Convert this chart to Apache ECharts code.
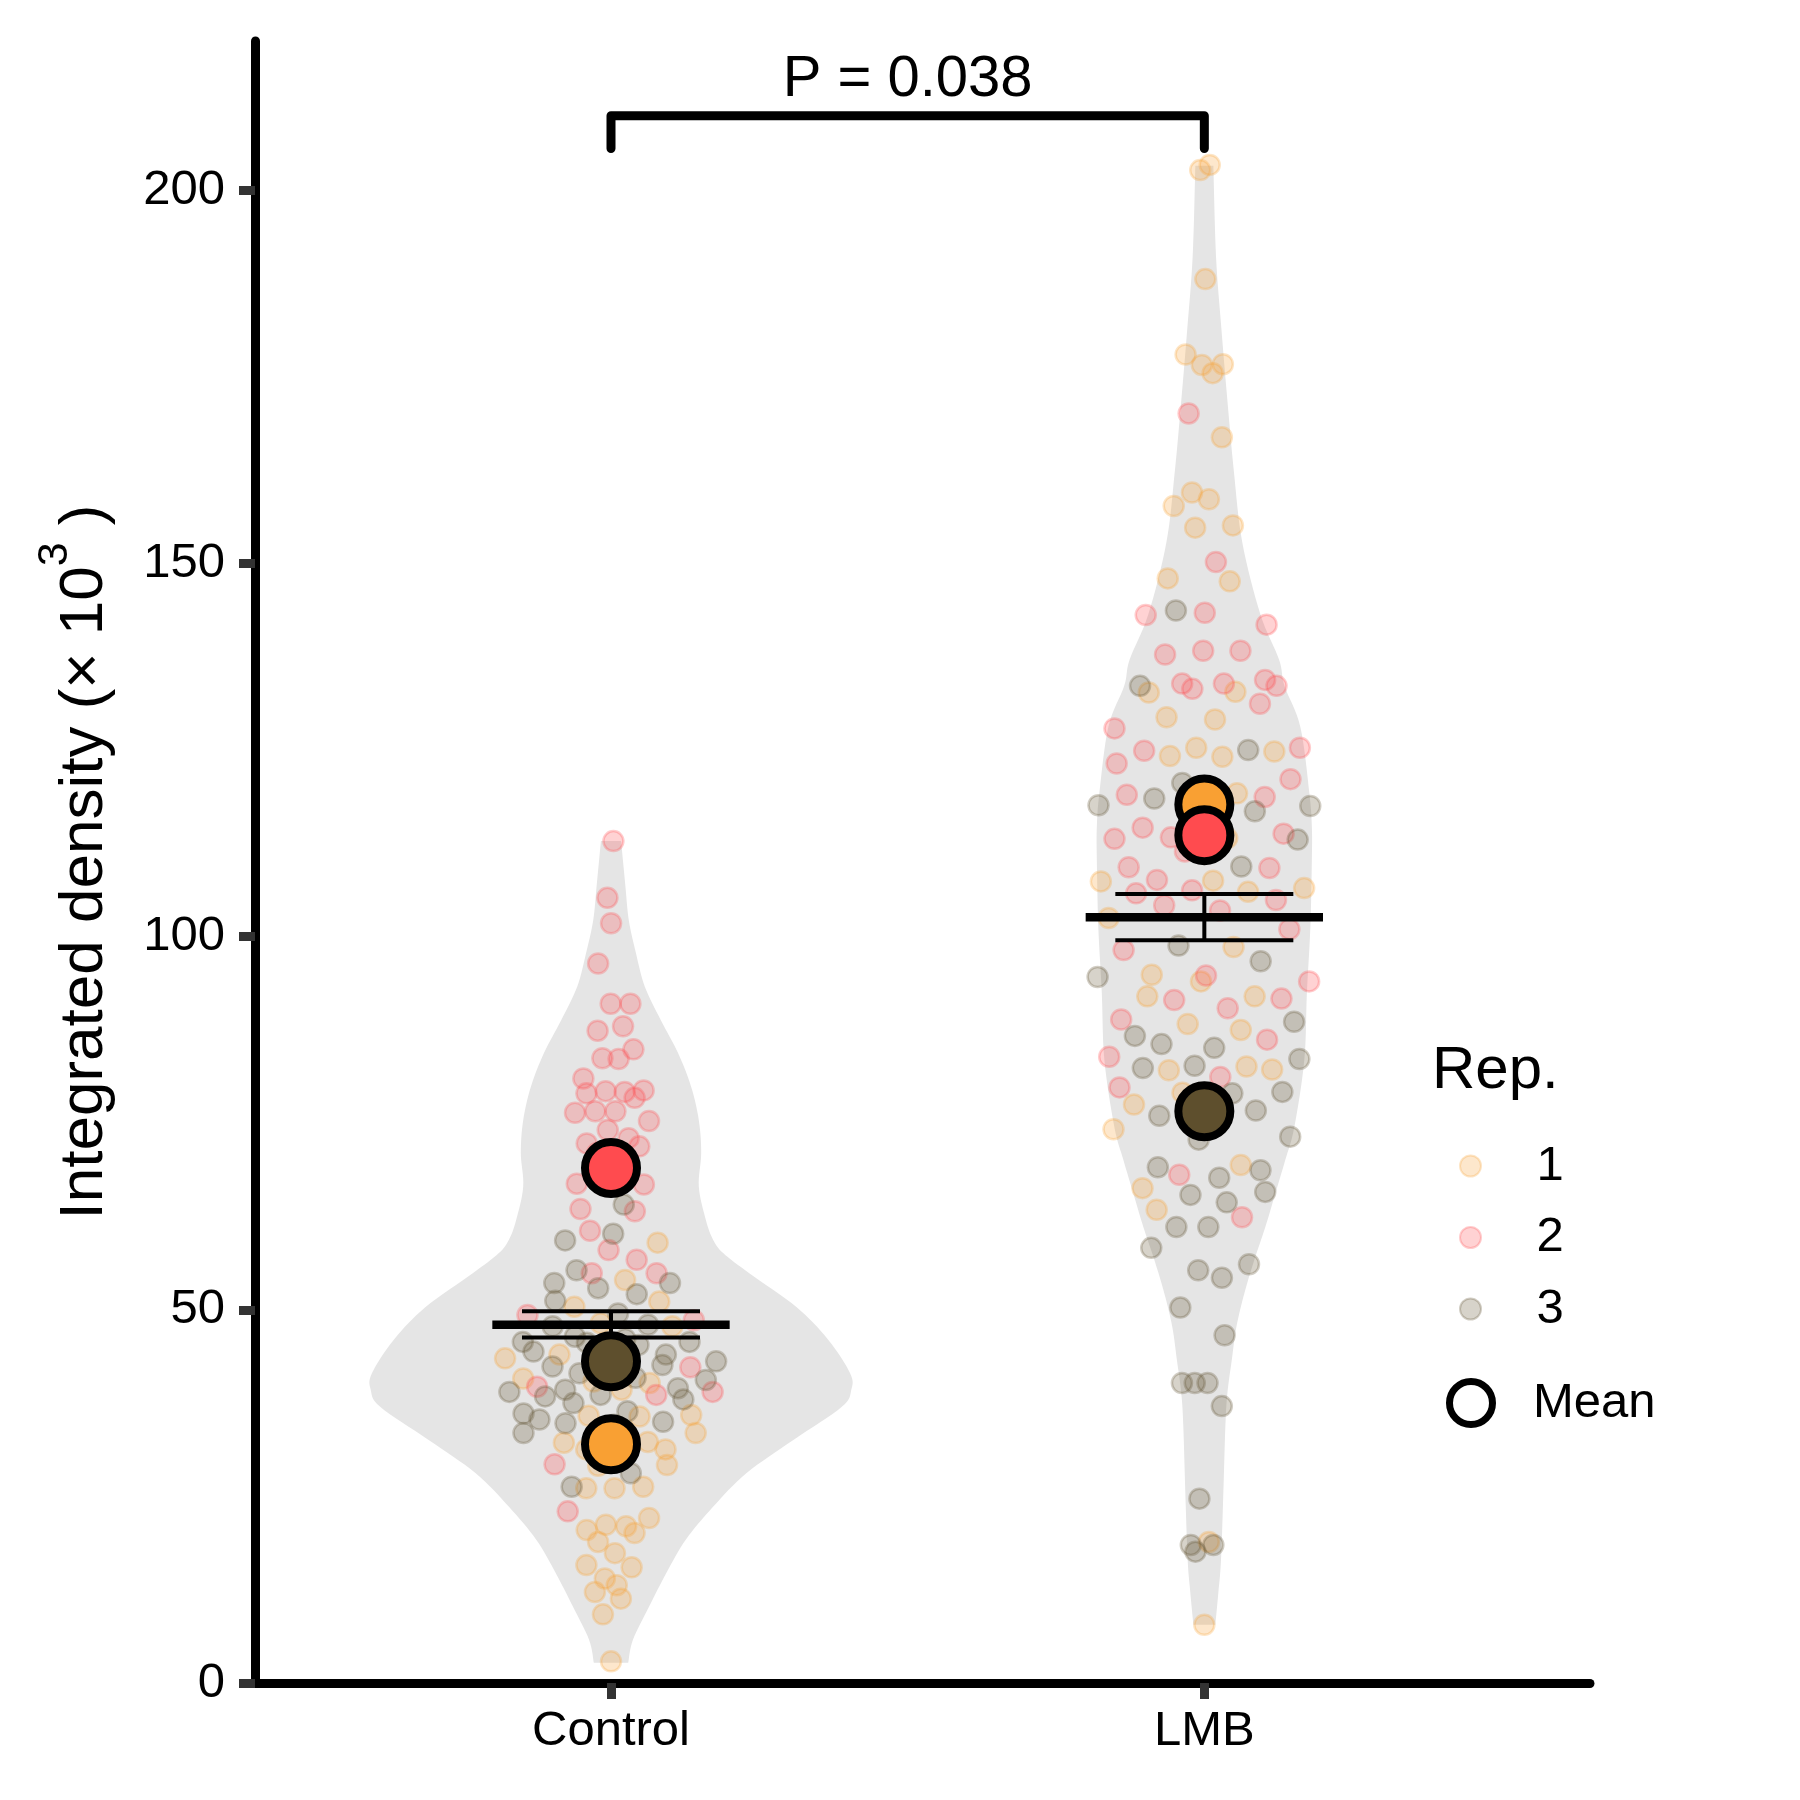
<!DOCTYPE html>
<html><head><meta charset="utf-8">
<script src="https://cdn.jsdelivr.net/npm/echarts@6/dist/echarts.min.js"></script>
<style>html,body{margin:0;padding:0;background:#fff}#c{width:1800px;height:1800px}</style>
</head><body><div id="c"></div>
<script>
const categories = ['Control', 'LMB'];
const reps = ['1', '2', '3'];
const yTicks = [0, 50, 100, 150, 200];

const control1 = [66.8, 59.0, 54.0, 51.1, 50.4, 48.2, 47.8, 44.0, 43.5, 44.0, 40.4, 40.2, 40.8, 39.3, 35.8, 35.9, 35.7, 33.5, 33.0, 32.3, 31.3, 31.3, 30.7, 32.2, 29.2, 29.1, 26.3, 26.1, 26.1, 22.1, 20.5, 21.2, 21.0, 20.1, 18.9, 17.4, 15.8, 15.5, 14.0, 13.1, 12.2, 11.3, 9.2, 2.9];
const control2 = [112.8, 105.2, 101.8, 96.4, 91.0, 91.0, 88.0, 87.4, 84.9, 83.6, 83.7, 81.0, 79.2, 79.4, 79.3, 79.0, 78.4, 76.6, 76.6, 76.4, 75.3, 74.1, 73.0, 72.3, 71.9, 71.0, 70.5, 66.9, 66.8, 63.2, 63.5, 60.6, 58.0, 56.7, 54.9, 54.9, 49.3, 48.6, 43.1, 42.3, 39.7, 38.6, 39.0, 29.3, 23.0];
const control3 = [64.1, 60.2, 59.3, 55.3, 53.6, 52.9, 53.6, 52.1, 51.2, 49.5, 48.0, 47.8, 45.3, 45.7, 45.6, 46.4, 45.7, 46.1, 44.0, 44.4, 43.1, 42.6, 40.9, 41.5, 42.4, 40.6, 39.3, 38.4, 39.0, 38.0, 39.5, 38.6, 37.5, 36.4, 35.0, 36.1, 35.3, 34.8, 34.6, 33.5, 28.1, 26.3];
const lmb1 = [203.4, 202.7, 188.1, 178.0, 176.7, 176.6, 175.5, 166.9, 159.5, 158.6, 157.7, 155.1, 154.8, 147.6, 148.0, 132.8, 132.7, 129.1, 129.4, 124.1, 125.3, 124.8, 124.2, 119.2, 117.8, 113.2, 107.5, 106.5, 107.4, 106.0, 102.5, 98.6, 94.9, 94.0, 92.0, 92.0, 87.5, 88.3, 82.2, 82.6, 82.1, 79.1, 77.5, 75.2, 74.2, 69.4, 66.3, 63.4, 18.9, 7.8];
const lmb2 = [170.1, 150.2, 143.4, 143.1, 141.8, 138.3, 138.3, 137.8, 133.9, 133.6, 134.4, 133.2, 133.9, 131.2, 127.9, 125.3, 124.9, 123.2, 121.1, 118.7, 117.1, 119.0, 113.8, 113.1, 114.6, 113.3, 111.4, 109.2, 109.3, 107.6, 105.8, 106.2, 104.9, 103.5, 104.2, 101.0, 98.2, 94.0, 94.8, 91.7, 90.4, 91.5, 88.9, 86.2, 83.9, 81.2, 79.8, 68.1, 62.4];
const lmb3 = [143.7, 133.6, 125.0, 120.6, 117.5, 118.5, 117.6, 116.8, 113.0, 109.4, 98.8, 96.7, 94.6, 88.6, 86.7, 85.6, 85.1, 83.6, 82.4, 82.7, 79.0, 79.2, 76.7, 76.0, 72.8, 73.2, 69.1, 68.7, 67.7, 65.4, 65.8, 64.4, 61.1, 61.1, 58.3, 56.1, 55.3, 54.3, 50.3, 46.6, 40.2, 40.2, 40.2, 37.1, 24.7, 18.5, 17.6, 18.5];

// violin density profiles (value, half-width in category units)
const violinControlY = [2.7, 5.8, 10.2, 14.7, 19.2, 23.6, 28.1, 32.6, 37.0, 39.3, 41.5, 46.0, 50.4, 54.9, 57.6, 59.4, 62.0, 66.5, 71.0, 75.4, 79.9, 84.4, 88.8, 93.3, 97.8, 102.2, 107.0, 112.8];
const violinControlHW = [0.029, 0.037, 0.064, 0.093, 0.126, 0.172, 0.228, 0.308, 0.389, 0.405, 0.403, 0.366, 0.312, 0.233, 0.189, 0.172, 0.160, 0.148, 0.152, 0.148, 0.135, 0.113, 0.084, 0.057, 0.042, 0.030, 0.024, 0.017];
const violinLMBY = [7.8, 12.1, 16.5, 25.4, 34.3, 38.8, 43.3, 47.7, 52.2, 56.7, 61.1, 65.6, 70.1, 74.5, 83.5, 92.4, 101.3, 110.3, 114.7, 119.2, 128.1, 133.6, 137.1, 143.2, 152.8, 162.4, 171.9, 181.5, 191.1, 203.3];
const violinLMBHW = [0.0185, 0.0236, 0.0281, 0.032, 0.0354, 0.0388, 0.0463, 0.054, 0.0674, 0.0843, 0.1028, 0.1197, 0.1365, 0.1517, 0.1685, 0.1728, 0.1787, 0.1812, 0.1812, 0.177, 0.1618, 0.135, 0.126, 0.0944, 0.064, 0.0497, 0.0388, 0.0287, 0.0197, 0.0152];

const repMeansControl = [32.0, 69.0, 43.1];
const repMeansLMB = [117.7, 113.6, 76.6];
const grandMean = [48.0, 102.6];
const semLow = [46.3, 99.5];
const semHigh = [49.8, 105.7];
const bracketY = [205.6, 210.0];
const pLabel = 'P = 0.038';

const FONT = '"Liberation Sans", Arial, Helvetica, sans-serif';
const repColors = ['#F9A033', '#FF4B4F', '#5E4F2D'];
const PT_FILL_ALPHA = 0.25;
const PT_EDGE_ALPHA = 0.28;
function rgba(hex, a) {
  const n = parseInt(hex.slice(1), 16);
  return 'rgba(' + (n >> 16 & 255) + ',' + (n >> 8 & 255) + ',' + (n & 255) + ',' + a + ')';
}
function interp(ys, hws, y) {
  if (y <= ys[0]) return hws[0];
  for (let i = 1; i < ys.length; i++) {
    if (y <= ys[i]) { const t = (y - ys[i - 1]) / (ys[i] - ys[i - 1]); return hws[i - 1] + t * (hws[i] - hws[i - 1]); }
  }
  return hws[hws.length - 1];
}
// Catmull-Rom resampling of a profile for a smooth outline
function smoothProfile(ys, hws) {
  const out = [];
  const n = ys.length;
  const P = i => [ys[Math.max(0, Math.min(n - 1, i))], hws[Math.max(0, Math.min(n - 1, i))]];
  for (let i = 0; i < n - 1; i++) {
    const p0 = P(i - 1), p1 = P(i), p2 = P(i + 1), p3 = P(i + 2);
    for (let s = 0; s < 8; s++) {
      const t = s / 8, t2 = t * t, t3 = t2 * t;
      const f = k => 0.5 * ((2 * p1[k]) + (-p0[k] + p2[k]) * t + (2 * p0[k] - 5 * p1[k] + 4 * p2[k] - p3[k]) * t2 + (-p0[k] + 3 * p1[k] - 3 * p2[k] + p3[k]) * t3);
      out.push([f(0), Math.max(0.005, f(1))]);
    }
  }
  out.push([ys[n - 1], hws[n - 1]]);
  return out;
}
function vdc(n) { let v = 0, d = 1; while (n > 0) { d *= 2; v += (n % 2) / d; n = Math.floor(n / 2); } return v; }
// quasirandom (van der Corput) offsets scaled by the group's density profile
const QW = 0.19;
function layoutGroup(gx, arrays, ys, hws) {
  const all = [];
  arrays.forEach((arr, r) => arr.forEach(v => all.push({ r, v })));
  const order = all.map((d, k) => k).sort((a, b) => (all[a].v - all[b].v) || (a - b));
  const maxHW = Math.max.apply(null, hws);
  order.forEach((k, rank) => {
    const d = all[k];
    const q = vdc(rank + 1);
    d.x = gx + (2 * q - 1) * QW * interp(ys, hws, d.v) / maxHW;
  });
  return all;
}
const gC = layoutGroup(1, [control1, control2, control3], violinControlY, violinControlHW);
const gL = layoutGroup(2, [lmb1, lmb2, lmb3], violinLMBY, violinLMBHW);

const pointSeries = reps.map((name, r) => ({
  type: 'scatter', name: name, z: 2, silent: true,
  symbol: 'circle', symbolSize: 20,
  itemStyle: { color: rgba(repColors[r], PT_FILL_ALPHA), borderColor: rgba(repColors[r], PT_EDGE_ALPHA), borderWidth: 2.5, opacity: 1 },
  data: gC.filter(d => d.r === r).map(d => [d.x, d.v]).concat(gL.filter(d => d.r === r).map(d => [d.x, d.v]))
}));

const profiles = [smoothProfile(violinControlY, violinControlHW), smoothProfile(violinLMBY, violinLMBHW)];

const chart = echarts.init(document.getElementById('c'), null, { renderer: 'canvas' });
chart.setOption({
  animation: false,
  backgroundColor: '#fff',
  grid: { left: 255, right: 210, top: 41, bottom: 117, containLabel: false, outerBoundsMode: 'none' },
  title: { text: 'Rep.', left: 1432, top: 1041, padding: 0, textStyle: { fontSize: 60, fontWeight: 'normal', color: '#000', fontFamily: FONT } },
  legend: [
    { data: reps, orient: 'vertical', left: 1459, top: 1141, padding: 0, itemGap: 21.5, itemWidth: 122, itemHeight: 21, icon: 'circle', selectedMode: false,
      textStyle: { fontSize: 49, color: '#000', fontFamily: FONT, lineHeight: 50 } },
    { data: [{ name: 'Mean', itemStyle: { color: 'rgba(0,0,0,0)', borderColor: '#000', borderWidth: 7 } }], orient: 'vertical', left: 1446, top: 1378, padding: 0,
      itemWidth: 114, itemHeight: 43, icon: 'circle', selectedMode: false,
      textStyle: { fontSize: 49, color: '#000', fontFamily: FONT, lineHeight: 50 } }
  ],
  xAxis: {
    type: 'value', min: 0.4, max: 2.65,
    axisLine: { show: true, onZero: false, lineStyle: { color: '#000', width: 9 } },
    axisTick: { show: true, length: 16, customValues: [1, 2], lineStyle: { color: '#333', width: 9 } },
    axisLabel: { show: true, customValues: [1, 2], margin: 24, fontSize: 49, color: '#000', fontFamily: FONT,
      formatter: v => categories[Math.round(v) - 1] || '' },
    splitLine: { show: false }
  },
  yAxis: {
    type: 'value', min: 0, max: 220,
    axisLine: { show: true, onZero: false, lineStyle: { color: '#000', width: 9 } },
    axisTick: { show: true, length: 16, customValues: yTicks, lineStyle: { color: '#333', width: 9 } },
    axisLabel: { show: true, customValues: yTicks, margin: 30, fontSize: 49, color: '#000', fontFamily: FONT },
    splitLine: { show: false },
    name: '{a|Integrated density (× 10}{s|3}{a| )}',
    nameLocation: 'middle', nameRotate: 90, nameGap: 139,
    nameTextStyle: {
      color: '#000', fontFamily: FONT,
      rich: {
        a: { fontSize: 62, lineHeight: 82, verticalAlign: 'bottom', fontFamily: FONT, color: '#000' },
        s: { fontSize: 43, lineHeight: 30, verticalAlign: 'top', fontFamily: FONT, color: '#000' }
      }
    }
  },
  series: [
    {
      type: 'custom', name: 'violin', z: 1, silent: true, clip: false,
      data: [[1, 0], [2, 0]],
      renderItem: function (params, api) {
        const g = api.value(0);
        const prof = profiles[params.dataIndex];
        const pts = [];
        for (let i = 0; i < prof.length; i++) pts.push(api.coord([g - prof[i][1], prof[i][0]]));
        for (let i = prof.length - 1; i >= 0; i--) pts.push(api.coord([g + prof[i][1], prof[i][0]]));
        return { type: 'polygon', shape: { points: pts }, style: { fill: '#E5E5E5', stroke: null } };
      }
    },
  ].concat(pointSeries).concat([
    {
      type: 'custom', name: 'summary', z: 3, silent: true, clip: false,
      data: [[1, grandMean[0], semLow[0], semHigh[0]], [2, grandMean[1], semLow[1], semHigh[1]]],
      renderItem: function (params, api) {
        const x = api.value(0), m = api.value(1), lo = api.value(2), hi = api.value(3);
        const ln = (a, b, w) => ({ type: 'line', shape: { x1: a[0], y1: a[1], x2: b[0], y2: b[1] }, style: { stroke: '#000', lineWidth: w } });
        return { type: 'group', children: [
          ln(api.coord([x - 0.15, hi]), api.coord([x + 0.15, hi]), 4),
          ln(api.coord([x - 0.15, lo]), api.coord([x + 0.15, lo]), 4),
          ln(api.coord([x, lo]), api.coord([x, hi]), 4),
          ln(api.coord([x - 0.2, m]), api.coord([x + 0.2, m]), 8.5)
        ] };
      }
    },
    {
      type: 'scatter', name: 'Mean', z: 4, silent: true,
      symbol: 'circle', symbolSize: 52,
      itemStyle: { borderColor: '#000', borderWidth: 8, opacity: 1 },
      data: repMeansControl.map((v, r) => ({ value: [1, v], itemStyle: { color: repColors[r] } }))
        .concat(repMeansLMB.map((v, r) => ({ value: [2, v], itemStyle: { color: repColors[r] } })))
    },
    {
      type: 'custom', name: 'bracket', z: 5, silent: true, clip: false,
      data: [[1, 2, bracketY[0], bracketY[1]]],
      renderItem: function (params, api) {
        const x1 = api.value(0), x2 = api.value(1), lo = api.value(2), hi = api.value(3);
        const pts = [api.coord([x1, lo]), api.coord([x1, hi]), api.coord([x2, hi]), api.coord([x2, lo])];
        const top = api.coord([(x1 + x2) / 2, hi]);
        return { type: 'group', children: [
          { type: 'polyline', shape: { points: pts }, style: { stroke: '#000', lineWidth: 9, fill: null, lineCap: 'round', lineJoin: 'round' } },
          { type: 'text', style: { text: pLabel, x: top[0], y: top[1] - 7, align: 'center', verticalAlign: 'bottom', fontSize: 58, fontFamily: FONT, fill: '#000' } }
        ] };
      }
    }
  ])
});
</script>
</body></html>
